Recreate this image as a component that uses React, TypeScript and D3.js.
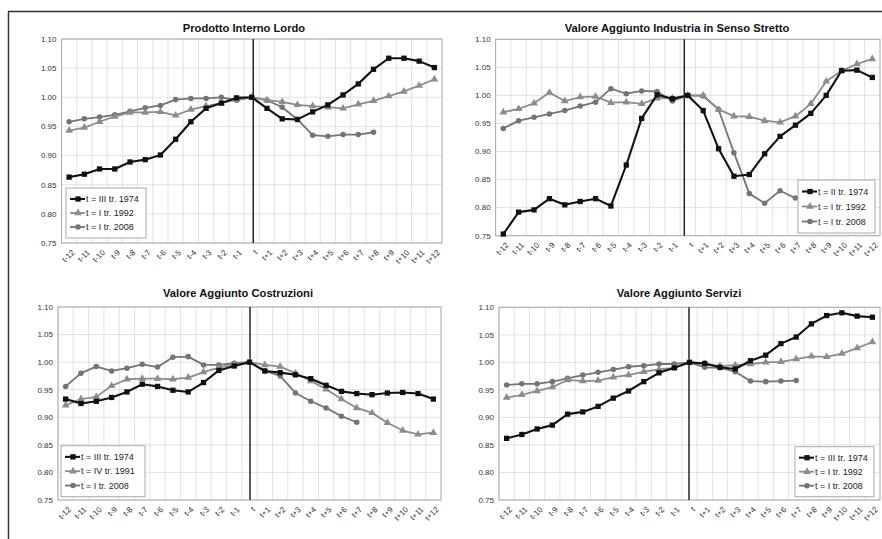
import React from "react";
import * as d3 from "d3";

// ---------- DATA ----------
const categories = [
  "t-12", "t-11", "t-10", "t-9", "t-8", "t-7", "t-6", "t-5", "t-4", "t-3", "t-2", "t-1",
  "t",
  "t+1", "t+2", "t+3", "t+4", "t+5", "t+6", "t+7", "t+8", "t+9", "t+10", "t+11", "t+12",
];
const yTicks = [0.75, 0.8, 0.85, 0.9, 0.95, 1.0, 1.05, 1.1];

const panelTitles = [
  "Prodotto Interno Lordo",
  "Valore Aggiunto Industria in Senso Stretto",
  "Valore Aggiunto Costruzioni",
  "Valore Aggiunto Servizi",
];

const legendPil = ["t = III tr. 1974", "t = I tr. 1992", "t = I tr. 2008"];
const legendInd = ["t = II tr. 1974", "t = I tr. 1992", "t = I tr. 2008"];
const legendCos = ["t = III tr. 1974", "t = IV tr. 1991", "t = I tr. 2008"];
const legendSer = ["t = III tr. 1974", "t = I tr. 1992", "t = I tr. 2008"];

const pil1974 = [0.863, 0.868, 0.877, 0.877, 0.889, 0.893, 0.901, 0.928, 0.958, 0.981, 0.99, 0.999, 1.0, 0.981, 0.963, 0.962, 0.975, 0.987, 1.004, 1.023, 1.048, 1.067, 1.067, 1.062, 1.051];
const pil1992 = [0.943, 0.948, 0.958, 0.967, 0.974, 0.974, 0.975, 0.969, 0.979, 0.985, 0.99, 0.996, 1.0, 0.995, 0.992, 0.987, 0.985, 0.983, 0.981, 0.988, 0.994, 1.002, 1.01, 1.02, 1.031];
const pil2008 = [0.958, 0.963, 0.966, 0.97, 0.976, 0.982, 0.986, 0.996, 0.998, 0.998, 1.0, 0.995, 1.0, 0.995, 0.983, 0.962, 0.935, 0.933, 0.936, 0.936, 0.94];

const ind1974 = [0.753, 0.792, 0.796, 0.816, 0.805, 0.811, 0.816, 0.803, 0.876, 0.959, 1.001, 0.994, 1.0, 0.973, 0.905, 0.856, 0.859, 0.896, 0.927, 0.947, 0.968, 1.0, 1.044, 1.045, 1.032];
const ind1992 = [0.97, 0.976, 0.986, 1.005, 0.99, 0.997, 0.998, 0.987, 0.988, 0.985, 0.995, 0.995, 1.0, 1.0, 0.975, 0.963, 0.962, 0.955, 0.952, 0.963, 0.985, 1.025, 1.044, 1.056, 1.065];
const ind2008 = [0.941, 0.955, 0.961, 0.967, 0.973, 0.981, 0.988, 1.012, 1.003, 1.008, 1.007, 0.99, 1.0, 0.999, 0.975, 0.898, 0.825, 0.808, 0.83, 0.817];

const cos1974 = [0.933, 0.925, 0.929, 0.936, 0.946, 0.96, 0.956, 0.949, 0.946, 0.963, 0.985, 0.993, 1.0, 0.984, 0.981, 0.977, 0.97, 0.958, 0.947, 0.943, 0.941, 0.944, 0.945, 0.943, 0.933];
const cos1991 = [0.922, 0.933, 0.937, 0.957, 0.969, 0.97, 0.97, 0.969, 0.972, 0.982, 0.99, 0.996, 1.0, 0.995, 0.992, 0.98, 0.966, 0.951, 0.933, 0.917, 0.908, 0.89, 0.876, 0.869, 0.872];
const cos2008 = [0.956, 0.98, 0.992, 0.984, 0.989, 0.996, 0.991, 1.009, 1.01, 0.995, 0.995, 0.998, 1.0, 0.984, 0.975, 0.944, 0.929, 0.917, 0.902, 0.891];

const ser1974 = [0.862, 0.869, 0.879, 0.886, 0.906, 0.91, 0.92, 0.935, 0.948, 0.965, 0.981, 0.99, 1.0, 0.998, 0.991, 0.988, 1.003, 1.013, 1.034, 1.046, 1.07, 1.085, 1.09, 1.084, 1.082];
const ser1992 = [0.936, 0.941, 0.948, 0.955, 0.968, 0.966, 0.967, 0.973, 0.977, 0.983, 0.987, 0.99, 1.0, 0.997, 0.993, 0.995, 0.997, 1.0, 1.001, 1.006, 1.011, 1.01, 1.016, 1.026, 1.037];
const ser2008 = [0.959, 0.961, 0.961, 0.965, 0.971, 0.977, 0.982, 0.987, 0.992, 0.994, 0.997, 0.997, 1.0, 0.991, 0.99, 0.983, 0.966, 0.965, 0.966, 0.967];

// ---------- STYLE / LAYOUT ----------
const FONT = "'Liberation Sans', Arial, sans-serif";
const seriesStyles = [
  { color: "#111111", width: 2.1, symbol: d3.symbolSquare, size: 28 },
  { color: "#8c8c8c", width: 1.8, symbol: d3.symbolTriangle, size: 26 },
  { color: "#747474", width: 1.8, symbol: d3.symbolCircle, size: 24 },
];

const layouts = [
  { x0: 61.5, x1: 442, y0: 39, y1: 243, titleX: 244, titleY: 32, lx: 66, ly: 188, lw: 80, lh: 50, tDx: 1.5 },
  { x0: 495.6, x1: 880, y0: 39.3, y1: 235.7, titleX: 677, titleY: 32, lx: 798, ly: 180, lw: 77, lh: 53, tDx: -3.5 },
  { x0: 58, x1: 441, y0: 307, y1: 500, titleX: 238, titleY: 297, lx: 61, ly: 445.7, lw: 84, lh: 51, tDx: 0.5 },
  { x0: 499, x1: 880, y0: 307.3, y1: 500, titleX: 679, titleY: 297, lx: 795, ly: 446.7, lw: 79, lh: 50, tDx: -0.5 },
];

const panels = [
  { title: panelTitles[0], series: [pil1974, pil1992, pil2008], legend: legendPil },
  { title: panelTitles[1], series: [ind1974, ind1992, ind2008], legend: legendInd },
  { title: panelTitles[2], series: [cos1974, cos1991, cos2008], legend: legendCos },
  { title: panelTitles[3], series: [ser1974, ser1992, ser2008], legend: legendSer },
];

function Panel({ panel, L }: { panel: any; L: any }) {
  const x = d3.scaleBand<string>().domain(categories).range([L.x0, L.x1]).padding(0);
  const y = d3.scaleLinear().domain([0.75, 1.1]).range([L.y1, L.y0]);
  const bw = x.bandwidth();
  const cx = (i: number) => (x(categories[i]) as number) + bw / 2;
  const line = d3
    .line<number>()
    .x((_, i) => cx(i))
    .y((d) => y(d));
  const tX = cx(categories.indexOf("t")) + L.tDx;
  const rowH = (L.lh - 8) / 3;

  return (
    <g>
      <text x={L.titleX} y={L.titleY} textAnchor="middle" fontFamily={FONT} fontSize={11.2} fontWeight="bold" fill="#111">
        {panel.title}
      </text>
      {yTicks.map((t) => (
        <line key={"h" + t} x1={L.x0} x2={L.x1} y1={y(t)} y2={y(t)} stroke="#dadada" strokeWidth={0.8} />
      ))}
      {categories.map((c) => (
        <line key={"v" + c} x1={x(c) as number} x2={x(c) as number} y1={L.y0} y2={L.y1} stroke="#dadada" strokeWidth={0.8} />
      ))}
      <rect x={L.x0} y={L.y0} width={L.x1 - L.x0} height={L.y1 - L.y0} fill="none" stroke="#a8a8a8" strokeWidth={1} />
      {yTicks.map((t) => (
        <text key={"yl" + t} x={L.x0 - 5} y={y(t)} dy="0.35em" textAnchor="end" fontFamily={FONT} fontSize={8} fill="#333">
          {d3.format(".2f")(t)}
        </text>
      ))}
      {categories.map((c, i) => (
        <text
          key={"xl" + c}
          transform={`translate(${cx(i) + 4},${L.y1 + 8}) rotate(-45)`}
          dy="0.35em"
          textAnchor="end"
          fontFamily={FONT}
          fontSize={8}
          fill="#333"
        >
          {c}
        </text>
      ))}
      <line x1={tX} x2={tX} y1={L.y0} y2={L.y1} stroke="#222" strokeWidth={1.5} />
      {[2, 1, 0].map((si) => {
        const st = seriesStyles[si];
        const data: number[] = panel.series[si];
        const sym = d3.symbol().type(st.symbol).size(st.size);
        return (
          <g key={"s" + si}>
            <path d={line(data) || ""} fill="none" stroke={st.color} strokeWidth={st.width} strokeLinejoin="round" />
            {data.map((v, i) => (
              <path key={i} d={sym() || ""} transform={`translate(${cx(i)},${y(v)})`} fill={st.color} />
            ))}
          </g>
        );
      })}
      <rect x={L.lx} y={L.ly} width={L.lw} height={L.lh} fill="#fff" stroke="#a8a8a8" strokeWidth={1} />
      {panel.legend.map((lab: string, si: number) => {
        const st = seriesStyles[si];
        const ry = L.ly + 4 + rowH * (si + 0.5);
        const sym = d3.symbol().type(st.symbol).size(st.size);
        return (
          <g key={"lg" + si}>
            <line x1={L.lx + 4} x2={L.lx + 19} y1={ry} y2={ry} stroke={st.color} strokeWidth={st.width} />
            <path d={sym() || ""} transform={`translate(${L.lx + 12},${ry})`} fill={st.color} />
            <text x={L.lx + 20} y={ry} dy="0.35em" fontFamily={FONT} fontSize={9} fill="#222">
              {lab}
            </text>
          </g>
        );
      })}
    </g>
  );
}

export default function App() {
  return (
    <svg width={882} height={539} style={{ position: "absolute", left: 0, top: 0, background: "#fff" }}>
      <rect x={0} y={0} width={882} height={539} fill="#fff" />
      <line x1={8} x2={882} y1={11.5} y2={11.5} stroke="#333" strokeWidth={1.5} />
      <line x1={8.5} x2={8.5} y1={11.5} y2={539} stroke="#333" strokeWidth={1.5} />
      {panels.map((p, i) => (
        <Panel key={i} panel={p} L={layouts[i]} />
      ))}
    </svg>
  );
}
